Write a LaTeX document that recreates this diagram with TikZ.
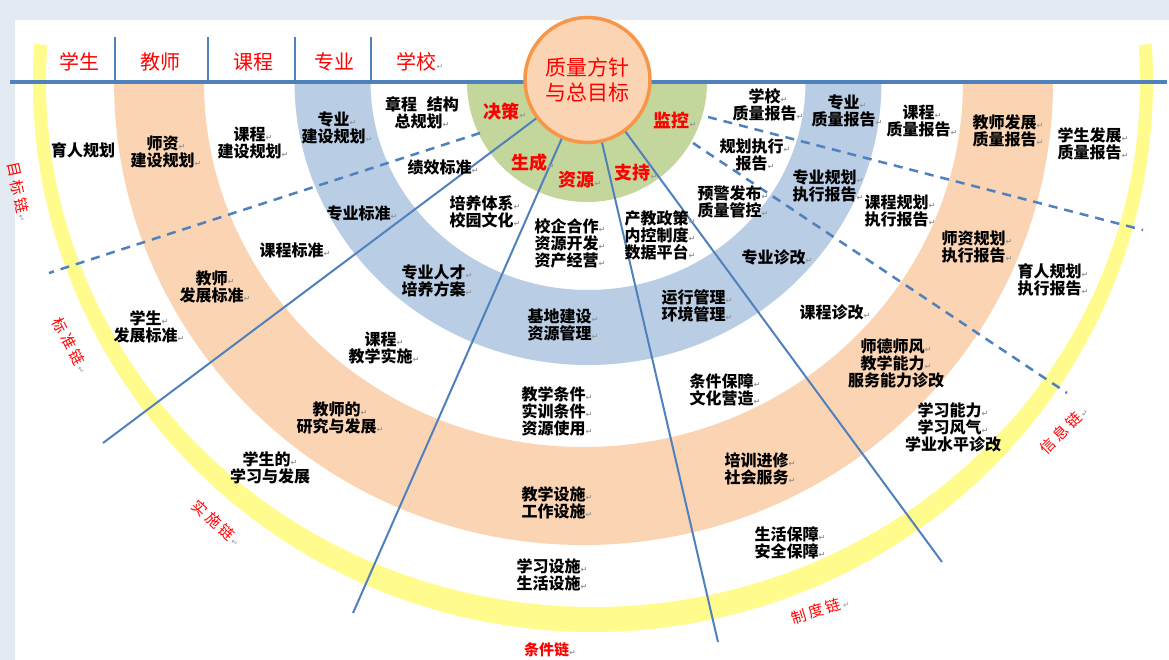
\documentclass[tikz,border=0pt]{standalone}
\usepackage{fontspec}
\usepackage{tikz}
\newfontfamily\cjk{Noto Sans CJK SC}
\newfontfamily\cjkwide{Noto Sans CJK SC}[LetterSpace=20]
\newfontfamily\markfont{DejaVu Sans}
\definecolor{lineblue}{HTML}{4F81BD}
\definecolor{bandgreen}{HTML}{C3D69B}
\definecolor{bandblue}{HTML}{B9CDE5}
\definecolor{bandorange}{HTML}{FBD4B4}
\definecolor{chainyellow}{HTML}{FFFB8C}
\definecolor{goalorange}{HTML}{F79646}
\definecolor{pagegray}{HTML}{E4EAF1}
\newcommand{\pmk}{{\markfont\fontsize{8}{8}\selectfont\color{black!40}↵}}
\newcommand{\cmk}{\hspace{2pt}{\markfont\fontsize{8}{8}\selectfont\color{black!40}↵}}

\begin{document}
\begin{tikzpicture}[x=1pt,y=-1pt,
  txt/.style={font=\cjk\bfseries\fontsize{16}{17}\selectfont, align=center, inner sep=0pt},
  head/.style={font=\cjk\fontsize{20}{20}\selectfont, text=red, inner sep=0pt},
  gtag/.style={font=\cjk\bfseries\fontsize{18}{18}\selectfont, text=red, inner sep=0pt},
  chain/.style={font=\cjkwide\fontsize{15}{15}\selectfont, text=red, inner sep=0pt},
  spoke/.style={lineblue, line width=2pt},
  dashline/.style={lineblue, line width=2.5pt, dash pattern=on 9pt off 7pt}]
\useasboundingbox (0,0) rectangle (1169,660);
\fill[pagegray] (0,0) rectangle (1169,660);
\fill[white] (15,20) rectangle (1169,660);

% rings
\fill[chainyellow] (593,82) ++(184:560 and 550) arc[start angle=184, end angle=-4, x radius=560, y radius=550]
  -- ++({cos(-4)*(547-560)},{sin(-4)*(525-550)}) arc[start angle=-4, end angle=184, x radius=547, y radius=525] -- cycle;
\fill[bandorange] (583.5,82) ++(180:469.5 and 463) arc[start angle=180, end angle=0, x radius=469.5, y radius=463]
  -- ++(-90,0) arc[start angle=0, end angle=180, x radius=379.5, y radius=365] -- cycle;
\fill[bandblue] (588,82) ++(180:293.5 and 283) arc[start angle=180, end angle=0, x radius=293.5, y radius=283]
  -- ++(-76,0) arc[start angle=0, end angle=180, x radius=217.5, y radius=208] -- cycle;
\fill[bandgreen] (467,82) arc[start angle=180, end angle=0, radius=120] -- cycle;

% header
\draw[lineblue, line width=4pt] (10,82) -- (1167,82);
\foreach \x in {115,208,295,371}
  \draw[lineblue, line width=2.5pt] (\x,37) -- (\x,82);
\node[head] (h-stu) at (79,62) {学生};
\node[head] (h-tea) at (160,62) {教师};
\node[head] (h-cou) at (253,62) {课程};
\node[head] (h-maj) at (334,62) {专业};
\node[head] (h-sch) at (420,62) {学校\pmk};

% dashed borders
\coordinate (d1a) at (480,133);
\coordinate (d1b) at (49,273);
\coordinate (d2a) at (708,117);
\coordinate (d2b) at (1143,230);
\coordinate (d3a) at (693,143);
\coordinate (d3b) at (1067,393);
\draw[dashline] (d1a) -- (d1b);
\draw[dashline] (d2a) -- (d2b);
\draw[dashline] (d3a) -- (d3b);

% goal and spokes
\node[circle, draw=goalorange, line width=3.5pt, fill=bandorange, minimum size=125pt,
  font=\cjk\fontsize{21}{25}\selectfont, text=red, align=center] (goal) at (587.5,80) {质量方针\\与总目标};
\coordinate (e1) at (103,443);
\coordinate (e2) at (353,613);
\coordinate (e3) at (718,642);
\coordinate (e4) at (942,562);
\draw[spoke] (goal) -- (e1);
\draw[spoke] (goal) -- (e2);
\draw[spoke] (goal) -- (e3);
\draw[spoke] (goal) -- (e4);

\node[gtag] (t-dec) at (505,112) {决策\pmk};
\node[gtag] (t-mon) at (675,120) {监控\pmk};
\node[gtag] (t-gen) at (533,163) {生成\pmk};
\node[gtag] (t-res) at (580,180) {资源\pmk};
\node[gtag] (t-sup) at (636,173) {支持\pmk};

% goal chain
\node[txt] (yuren) at (83,150) {育人规划};
\node[txt] (shizi) at (166,152) {师资\pmk\\建设规划\pmk};
\node[txt] (kc-plan) at (253,143) {课程\pmk\\建设规划\pmk};
\node[txt] (zy-plan) at (337,128) {专业\pmk\\建设规划\pmk};
\node[txt] (zhangcheng) at (422,113) {章程\hspace{0.6em}结构\\总规划\pmk};
% standard chain
\node[txt] (jixiao) at (443,167) {绩效标准\pmk};
\node[txt] (zy-std) at (362,213) {专业标准\pmk};
\node[txt] (kc-std) at (295,250) {课程标准\pmk};
\node[txt] (js-std) at (215,287) {教师\pmk\\发展标准\pmk};
\node[txt] (xs-std) at (149,327) {学生\pmk\\发展标准\pmk};
% implementation chain
\node[txt] (peiyang) at (485,212) {培养体系\pmk\\校园文化\pmk};
\node[txt] (rencai) at (437,281) {专业人才\pmk\\培养方案\pmk};
\node[txt] (kc-do) at (384,348) {课程\pmk\\教学实施\pmk};
\node[txt] (js-do) at (340,418) {教师的\pmk\\研究与发展\pmk};
\node[txt] (xs-do) at (270,468) {学生的\pmk\\学习与发展};
% condition chain
\node[txt] (xiaoqi) at (570,243) {校企合作\pmk\\资源开发\pmk\\资产经营\pmk};
\node[txt] (jidi) at (563,325) {基地建设\pmk\\资源管理\pmk};
\node[txt] (tiaojian) at (557,411) {教学条件\pmk\\实训条件\pmk\\资源使用\pmk};
\node[txt] (sheshi) at (557,503) {教学设施\pmk\\工作设施\pmk};
\node[txt] (xuexi) at (552,575) {学习设施\pmk\\生活设施\pmk};
% rule chain
\node[txt] (chanjiao) at (660,235) {产教政策\pmk\\内控制度\pmk\\数据平台\pmk};
\node[txt] (yunxing) at (697,306) {运行管理\pmk\\环境管理\pmk};
\node[txt] (baozhang) at (725,390) {条件保障\pmk\\文化营造\pmk};
\node[txt] (peixun) at (760,469) {培训进修\pmk\\社会服务\pmk};
\node[txt] (shenghuo) at (790,543) {生活保障\pmk\\安全保障\pmk};
% information chain
\node[txt] (yujing) at (733,202) {预警发布\pmk\\质量管控\pmk};
\node[txt] (zy-diag) at (777,257) {专业诊改\pmk};
\node[txt] (kc-diag) at (835,312) {课程诊改\pmk};
\node[txt] (js-diag) at (896,363) {师德师风\pmk\\教学能力\pmk\\服务能力诊改};
\node[txt] (xs-diag) at (953,427) {学习能力\pmk\\学习风气\pmk\\学业水平诊改};
% reports
\node[txt] (xx-rep) at (768,105) {学校\pmk\\质量报告\pmk};
\node[txt] (zx-rep) at (755,155) {规划执行\pmk\\报告\pmk};
\node[txt] (zy-rep) at (847,111) {专业\pmk\\质量报告\pmk};
\node[txt] (kc-rep) at (922,121) {课程\pmk\\质量报告\pmk};
\node[txt] (js-rep) at (1008,131) {教师发展\pmk\\质量报告\pmk};
\node[txt] (xs-rep) at (1093,144) {学生发展\pmk\\质量报告\pmk};
\node[txt] (zy-exe) at (828,186) {专业规划\pmk\\执行报告\pmk};
\node[txt] (kc-exe) at (900,211) {课程规划\pmk\\执行报告\pmk};
\node[txt] (sz-exe) at (977,247) {师资规划\pmk\\执行报告\pmk};
\node[txt] (yr-exe) at (1053,280) {育人规划\pmk\\执行报告\pmk};

% chain names
\node[chain, rotate=-78] (c-goal) at (19,192) {目标链\cmk};
\node[chain, rotate=-62] (c-std) at (71,345) {标准链\cmk};
\node[chain, rotate=-42] (c-do) at (217,523) {实施链\cmk};
\node[chain, font=\cjk\bfseries\fontsize{15}{15}\selectfont] (c-cond) at (550,650) {条件链\pmk};
\node[chain, rotate=17] (c-rule) at (820,610) {制度链\cmk};
\node[chain, rotate=45] (c-info) at (1064,430) {信息链\cmk};
\end{tikzpicture}
\end{document}
